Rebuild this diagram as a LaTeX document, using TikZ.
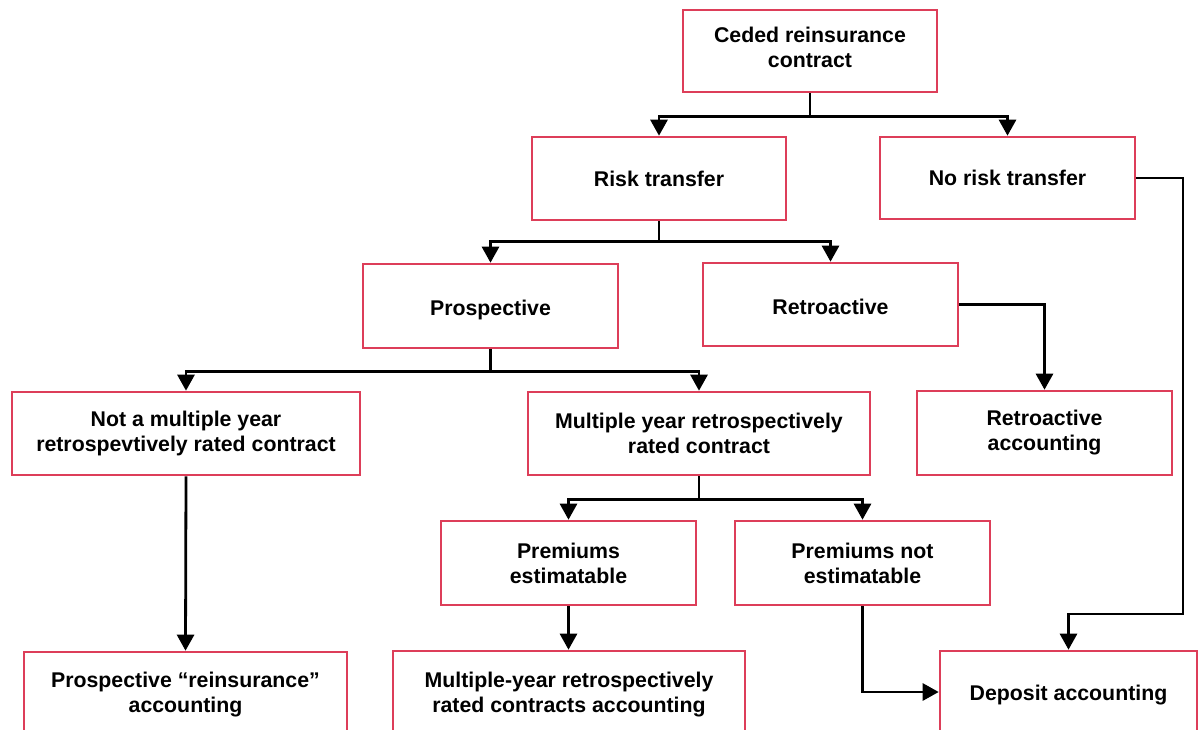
\documentclass[tikz,border=0pt]{standalone}
\usepackage{fontspec}
\setmainfont{Liberation Sans}
\usetikzlibrary{arrows.meta}
\definecolor{boxred}{RGB}{221,62,89}
% move a label up or down without changing the size used for centring
\newcommand{\nudge}[2]{\raisebox{#1}[\height][\depth]{#2}}
\begin{document}
\begin{tikzpicture}[x=1pt,y=-1pt,
  box/.style={draw=boxred,line width=2.6pt,fill=white,rectangle,inner sep=0pt,
    align=center,font=\fontsize{21.3}{25}\selectfont\bfseries,text=black},
  arr/.style={draw=black,line width=2.8pt,
    -{Triangle[width=17pt,length=16pt]}}]
\useasboundingbox (0,0) rectangle (1200,730);
\clip (0,0) rectangle (1200,730);
\fill[white] (0,0) rectangle (1200,730);

% decision boxes
\node[box,minimum width=254pt,minimum height=82pt] (ceded) at (810,51)
  {\nudge{1pt}{\begin{tabular}{@{}c@{}}Ceded reinsurance\\contract\end{tabular}}};
\node[box,minimum width=254pt,minimum height=83pt] (risk) at (659,178.5) {Risk transfer};
\node[box,minimum width=255pt,minimum height=82pt] (norisk) at (1007.5,178) {No risk transfer};
\node[box,minimum width=255pt,minimum height=84pt] (prosp) at (490.5,306) {\nudge{-4pt}{Prospective}};
\node[box,minimum width=255pt,minimum height=83pt] (retro) at (830.5,304.5) {\nudge{-2pt}{Retroactive}};
\node[box,minimum width=348pt,minimum height=83pt] (notmulti) at (186,433.5) {Not a multiple year\\retrospevtively rated contract};
\node[box,minimum width=342pt,minimum height=83pt] (multi) at (699,433.5) {Multiple year retrospectively\\rated contract};
\node[box,minimum width=255pt,minimum height=84pt] (retroacc) at (1044.5,433) {Retroactive\\accounting};
\node[box,minimum width=255pt,minimum height=84pt] (premest) at (568.5,563) {Premiums\\estimatable};
\node[box,minimum width=255pt,minimum height=84pt] (premnot) at (862.5,563) {Premiums not\\estimatable};

% accounting outcomes (run past the lower edge)
\node[box,minimum width=323pt,minimum height=86pt] (prospacc) at (185.5,695) {Prospective “reinsurance”\\accounting};
\node[box,minimum width=352pt,minimum height=88pt] (multiacc) at (569,695) {Multiple-year retrospectively\\rated contracts accounting};
\node[box,minimum width=257pt,minimum height=82pt] (deposit) at (1068.5,692) {\nudge{-3pt}{Deposit accounting}};

% connectors
\draw[arr] (ceded.south) -- ++(0,23) -| (risk.north);
\draw[arr] (ceded.south) -- ++(0,23) -| (norisk.north);
\draw[arr] (risk.south) -- ++(0,20) -| (prosp.north);
\draw[arr] (risk.south) -- ++(0,20) -| (retro.north);
\draw[arr] (prosp.south) -- ++(0,22) -| (notmulti.north);
\draw[arr] (prosp.south) -- ++(0,22) -| (multi.north);
\draw[arr] (retro.east) -| (retroacc.north);
\draw[arr] (multi.south) -- ++(0,23) -| (premest.north);
\draw[arr] (multi.south) -- ++(0,23) -| (premnot.north);
\draw[arr] (notmulti.south) -- (prospacc.north);
\draw[arr] (premest.south) -- (premest.south |- multiacc.north);
\draw[arr] (premnot.south) |- (deposit.west);
\coordinate (bend) at (1183,178);
\draw[arr] (norisk.east) -- (bend) -- (1183,614) -| (deposit.north);
\end{tikzpicture}
\end{document}
